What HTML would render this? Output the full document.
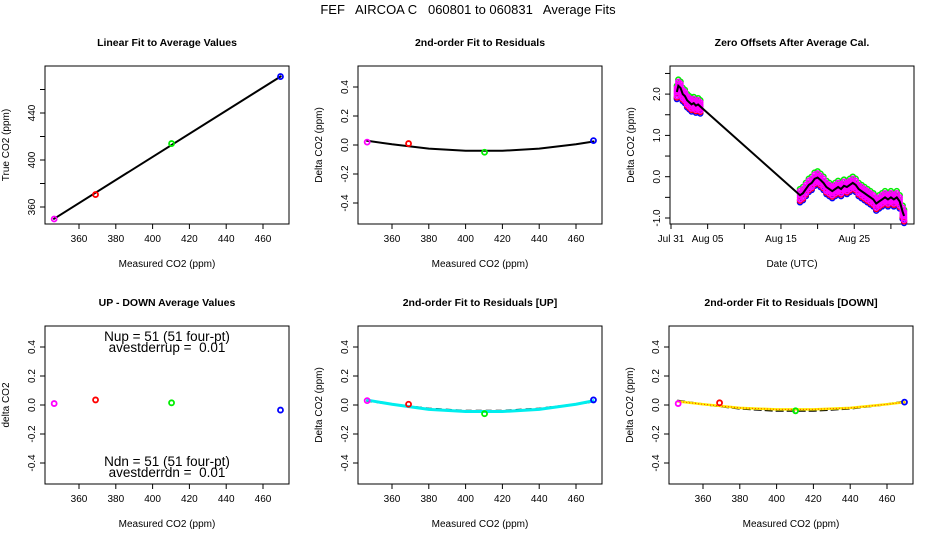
<!DOCTYPE html>
<html><head><meta charset="utf-8"><style>
body{margin:0;background:#fff}
svg{display:block;font-family:"Liberation Sans",sans-serif}
</style></head><body>
<svg id="c" width="936" height="540" viewBox="0 0 936 540">
<text x="468" y="14" font-size="13" text-anchor="middle" style="white-space:pre">FEF   AIRCOA C   060801 to 060831   Average Fits</text>
</svg>
<script>
// ---- data ----
const calX = [346.5, 369, 410.3, 469.5];
const calColors = ['#ff00ff', '#ff0000', '#00ee00', '#0000ff'];
const trueY = [349.8, 370.6, 414, 471];
const fitLineX = [346, 470];
const fitLineY = [349.5, 471.5];
const residY = [0.02, 0.01, -0.05, 0.03];
const fitCurveX = [346, 360, 380, 400, 420, 440, 460, 470];
const fitCurveY = [0.03, 0.005, -0.025, -0.04, -0.04, -0.025, 0.005, 0.025];
const udDelta = [0.01, 0.035, 0.015, -0.035];
const upResid = [0.03, 0.005, -0.06, 0.035];
const upFitY = [0.035, 0.005, -0.03, -0.045, -0.045, -0.03, 0.005, 0.03];
const dnResid = [0.01, 0.015, -0.04, 0.02];
const dnFitY = [0.025, 0.005, -0.02, -0.03, -0.03, -0.02, 0.005, 0.02];
const zeroDays = [0.8,1.0,1.3,1.6,1.9,2.2,2.5,2.8,3.1,3.4,3.7,4.0,
 17.6,18.0,18.4,18.8,19.2,19.6,20.0,20.4,20.8,21.2,21.6,22.0,22.4,22.8,23.2,23.6,24.0,24.4,24.8,25.2,25.6,26.0,26.4,26.8,27.2,27.6,28.0,28.4,28.8,29.2,29.6,30.0,30.4,30.8,31.2,31.6,31.8];
const zeroVals = [2.05,2.2,2.15,2.0,1.95,1.85,1.8,1.75,1.78,1.72,1.75,1.7,
 -0.45,-0.4,-0.3,-0.2,-0.15,-0.05,-0.02,-0.08,-0.15,-0.25,-0.3,-0.35,-0.3,-0.25,-0.3,-0.22,-0.25,-0.2,-0.15,-0.2,-0.3,-0.35,-0.4,-0.45,-0.5,-0.55,-0.65,-0.6,-0.55,-0.5,-0.55,-0.5,-0.55,-0.5,-0.6,-0.85,-0.95];
const zeroColorOffsets = [-0.17, -0.13, 0.15, 0]; // blue, red, green, magenta
const zeroColors = ['#0000ff','#ff0000','#00ee00','#ff00ff'];
const xTicks = [360,380,400,420,440,460];
const residTicks = [-0.4,-0.2,0,0.2,0.4];
const residTickLabels = ['-0.4','-0.2','0.0','0.2','0.4'];
const trueTicks = [360,380,400,420,440,460];
const dayTicks = [0,5,10,15,20,25,30];
const dayTickLabels = ['Jul 31','Aug 05','','Aug 15','','Aug 25',''];
const zeroTicks = [-1,-0.5,0,0.5,1,1.5,2,2.5];
const zeroTickLabels = ['-1.0','','0.0','','1.0','','2.0',''];

const svg = document.getElementById('c');
const NS = 'http://www.w3.org/2000/svg';
function mk(tag, attrs, parent){const e=document.createElementNS(NS,tag);for(const k in attrs)e.setAttribute(k,attrs[k]);(parent||svg).appendChild(e);return e;}

function panel(name, L, T, title, xlab, ylab){
  const g = mk('g', {});
  
  
  const box = mk('rect', {x:L, y:T, width:244, height:158, fill:'none', stroke:'#000', 'stroke-width':1}, g);
  
  
  const t = mk('text', {x:L+122, y:T-20, 'font-size':10.5, 'font-weight':'bold', 'text-anchor':'middle'}, g);
  t.textContent = title;
  
  
  const xl = mk('text', {x:L+122, y:T+201, 'font-size':10, 'text-anchor':'middle'}, g);
  xl.textContent = xlab;
  
  
  const yl = mk('text', {x:0, y:0, 'font-size':10, 'text-anchor':'middle', transform:`translate(${L-36},${T+79}) rotate(-90)`}, g);
  yl.textContent = ylab;
  
  
  return g;
}
function xAxis(g, ticks, labels, fx, B){
  ticks.forEach((v,i)=>{
    const x = fx(v);
    mk('line',{x1:x,y1:B,x2:x,y2:B+5,stroke:'#000'},g);
    if(labels[i]){const t=mk('text',{x:x,y:B+18,'font-size':10,'text-anchor':'middle'},g);t.textContent=labels[i];
      
      }
  });
}
function yAxis(g, ticks, labels, fy, L){
  ticks.forEach((v,i)=>{
    const y = fy(v);
    mk('line',{x1:L-5,y1:y,x2:L,y2:y,stroke:'#000'},g);
    if(labels[i]){const t=mk('text',{x:0,y:0,'font-size':10,'text-anchor':'middle',transform:`translate(${L-10},${y}) rotate(-90)`},g);t.textContent=labels[i];
      
      }
  });
}
function pts(g, xs, ys, fx, fy){
  xs.forEach((v,i)=>{
    const c = mk('circle',{cx:fx(v),cy:fy(ys[i]),r:2.5,fill:'none',stroke:calColors[i],'stroke-width':1.8},g);
    
    
  });
}
function curve(g, xs, ys, fx, fy, color, w, dash){
  const d = xs.map((v,i)=>(i?'L':'M')+fx(v)+','+fy(ys[i])).join(' ');
  const p = mk('path',{d:d,fill:'none',stroke:color,'stroke-width':w},g);
  if(dash) p.setAttribute('stroke-dasharray',dash);
  
  
  return p;
}
const xs = L => v => L+34+(v-360)*1.84;
const ry = T => v => T+79-v*145;
const ppmLabels = ['360','380','400','420','440','460'];

// Panel 1: linear fit
{ const L=45,T=66; const g=panel('linear-fit-panel',L,T,'Linear Fit to Average Values','Measured CO2 (ppm)','True CO2 (ppm)');
  const fx=xs(L);
  const fyy=v=>207-(v-360)*1.175;
  xAxis(g,xTicks,ppmLabels,fx,T+158);
  yAxis(g,trueTicks,['360','','400','','440',''],fyy,L);
  curve(g,fitLineX,fitLineY,fx,fyy,'#000',2);
  pts(g,calX,trueY,fx,fyy); }
// Panel 2
{ const L=358,T=66; const g=panel('residual-fit-panel',L,T,'2nd-order Fit to Residuals','Measured CO2 (ppm)','Delta CO2 (ppm)');
  const fx=xs(L), fy=ry(T);
  xAxis(g,xTicks,ppmLabels,fx,T+158); yAxis(g,residTicks,residTickLabels,fy,L);
  curve(g,fitCurveX,fitCurveY,fx,fy,'#000',2);
  pts(g,calX,residY,fx,fy); }
// Panel 3: zero offsets
{ const L=670,T=66; const g=panel('zero-offsets-panel',L,T,'Zero Offsets After Average Cal.','Date (UTC)','Delta CO2 (ppm)');
  const fx=v=>671+v*7.33, fy=v=>176.7-v*41.3;
  xAxis(g,dayTicks,dayTickLabels,fx,T+158); yAxis(g,zeroTicks,zeroTickLabels,fy,L);
  [0,1,2,3].forEach(ci=>{
    const col = zeroColors[ci];
    zeroDays.forEach((d,i)=>{
      const offs = ci===3 ? [-0.1,-0.05,0,0.05,0.1] : [zeroColorOffsets[ci]];
      offs.forEach(o=>{
        const c=mk('circle',{cx:fx(d),cy:fy(zeroVals[i]+o),r:2.5,fill:'none',stroke:col,'stroke-width':1.5},g);
        
        
      });
    });
  });
  curve(g,zeroDays,zeroVals,fx,fy,'#000',2); }
// Panel 4: up-down
{ const L=45,T=326; const g=panel('up-down-panel',L,T,'UP - DOWN Average Values','Measured CO2 (ppm)','delta CO2');
  const fx=xs(L), fy=ry(T);
  xAxis(g,xTicks,ppmLabels,fx,T+158); yAxis(g,residTicks,residTickLabels,fy,L);
  pts(g,calX,udDelta,fx,fy);
  [['Nup = 51 (51 four-pt)',T+15],['avestderrup =  0.01',T+26],['Ndn = 51 (51 four-pt)',T+140],['avestderrdn =  0.01',T+151]].forEach(a=>{
    const t=mk('text',{x:L+122,y:a[1],'font-size':13.5,'text-anchor':'middle',style:'white-space:pre'},g);t.textContent=a[0];
    
    
  }); }
// Panel 5: UP
{ const L=358,T=326; const g=panel('residual-up-panel',L,T,'2nd-order Fit to Residuals [UP]','Measured CO2 (ppm)','Delta CO2 (ppm)');
  const fx=xs(L), fy=ry(T);
  xAxis(g,xTicks,ppmLabels,fx,T+158); yAxis(g,residTicks,residTickLabels,fy,L);
  curve(g,fitCurveX,fitCurveY,fx,fy,'#000',2,'6 4');
  curve(g,fitCurveX,upFitY,fx,fy,'#00eeee',3);
  pts(g,calX,upResid,fx,fy); }
// Panel 6: DOWN
{ const L=669,T=326; const g=panel('residual-down-panel',L,T,'2nd-order Fit to Residuals [DOWN]','Measured CO2 (ppm)','Delta CO2 (ppm)');
  const fx=xs(L), fy=ry(T);
  xAxis(g,xTicks,ppmLabels,fx,T+158); yAxis(g,residTicks,residTickLabels,fy,L);
  curve(g,fitCurveX,fitCurveY,fx,fy,'#000',2,'8 3');
  curve(g,fitCurveX,dnFitY,fx,fy,'#ffee00',2.5);
  curve(g,fitCurveX,dnFitY,fx,fy,'#ff3300',1,'1 2');
  pts(g,calX,dnResid,fx,fy); }
</script>
</body></html>
